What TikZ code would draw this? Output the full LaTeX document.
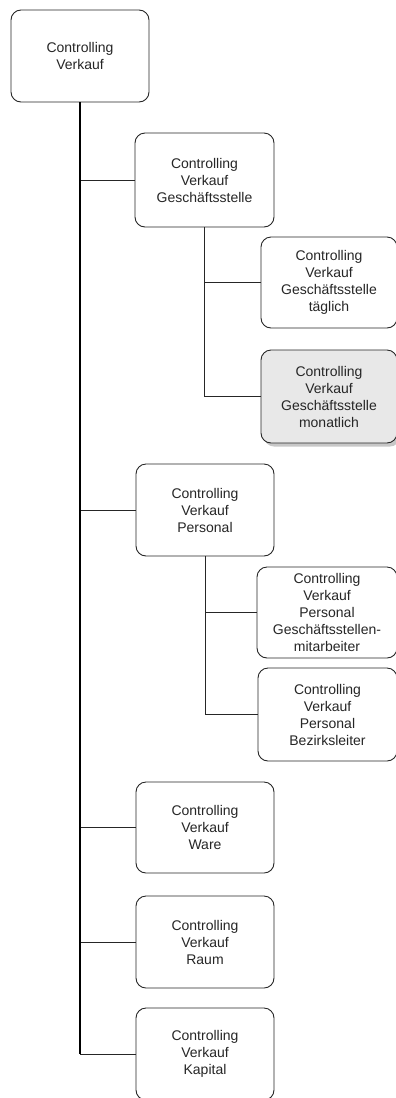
\documentclass[tikz,border=0pt]{standalone}
\usepackage{fontspec}
\setmainfont{Liberation Sans}
\usetikzlibrary{shadows}
\begin{document}
\begin{tikzpicture}[x=1pt,y=-1pt,
  box/.style={draw=black!85, line width=0.9pt, rounded corners=10pt, fill=white,
    inner sep=0pt, align=center, text=black!85,
    font=\fontsize{14}{17}\selectfont},
  conn/.style={draw=black!85, line width=1pt},
  trunk/.style={draw=black, line width=2.4pt}]
\useasboundingbox (0,0) rectangle (396,1098);
\node[box, minimum width=138pt, minimum height=92pt] (root) at (80,56) {Controlling\\Verkauf};
\node[box, minimum width=139pt, minimum height=94pt] (gs) at (204.5,180) {Controlling\\Verkauf\\Geschäftsstelle};
\node[box, minimum width=136pt, minimum height=91pt] (gst) at (329,282.5) {Controlling\\Verkauf\\Geschäftsstelle\\täglich};
\node[box, minimum width=136pt, minimum height=93pt, fill=black!9,
  drop shadow={shadow xshift=3pt, shadow yshift=-3.5pt, fill=black!22, opacity=1}] (gsm) at (329,396.5) {Controlling\\Verkauf\\Geschäftsstelle\\monatlich};
\node[box, minimum width=138pt, minimum height=92pt] (pers) at (205,510) {Controlling\\Verkauf\\Personal};
\node[box, minimum width=140pt, minimum height=91pt] (pgm) at (327,612.5) {Controlling\\Verkauf\\Personal\\Geschäftsstellen-\\mitarbeiter};
\node[box, minimum width=139pt, minimum height=93pt] (pbl) at (327.5,714.5) {Controlling\\Verkauf\\Personal\\Bezirksleiter};
\node[box, minimum width=138pt, minimum height=91pt] (ware) at (205,827.5) {Controlling\\Verkauf\\Ware};
\node[box, minimum width=138pt, minimum height=92pt] (raum) at (205,942) {Controlling\\Verkauf\\Raum};
\node[box, minimum width=138pt, minimum height=92pt] (kap) at (205,1054) {Controlling\\Verkauf\\Kapital};
\coordinate (tend) at (80,1054);
% sub connectors
\draw[conn] (gs.south) |- (gst.west);
\draw[conn] (gs.south) |- (gsm.west);
\draw[conn] (pers.south) |- (pgm.west);
\draw[conn] (pers.south) |- (pbl.west);
% main branches
\draw[conn] (root.south) |- (gs.west);
\draw[conn] (root.south) |- (pers.west);
\draw[conn] (root.south) |- (ware.west);
\draw[conn] (root.south) |- (raum.west);
\draw[conn] (root.south) |- (kap.west);
\draw[trunk] (root.south) -- (tend);
\end{tikzpicture}
\end{document}
